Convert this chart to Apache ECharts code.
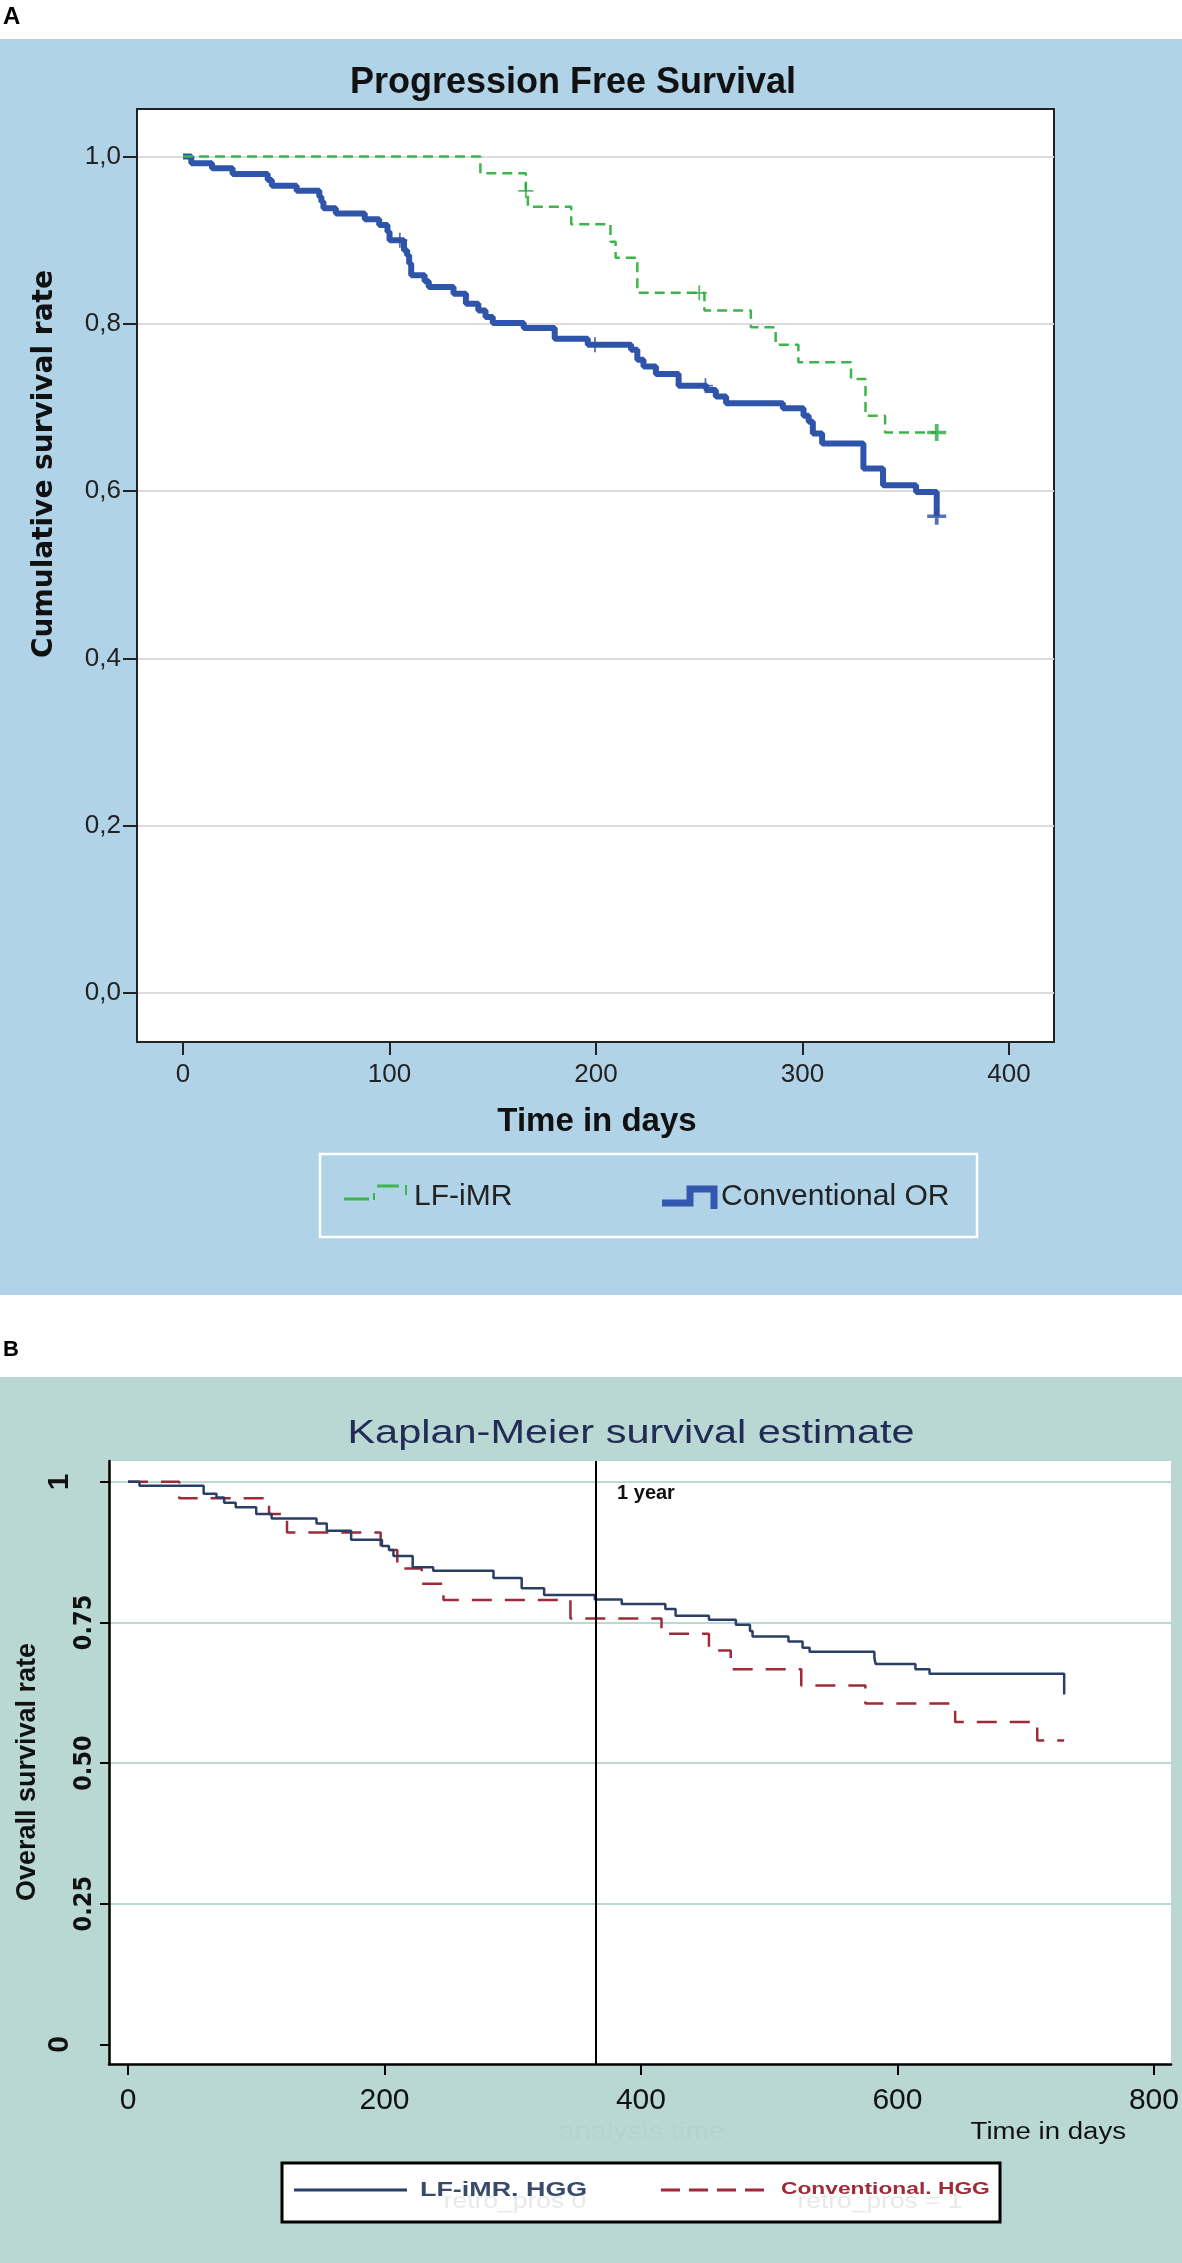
<!DOCTYPE html>
<html lang="en">
<head>
<meta charset="UTF-8">
<title>survival curves</title>
<script src="https://cdn.jsdelivr.net/npm/echarts@6/dist/echarts.min.js"></script>
<style>
  html, body { margin: 0; padding: 0; background: #fff; }
  #main { width: 1182px; height: 2263px; }
</style>
</head>
<body>
<div id="main"></div>
<script>
// panel A - progression free survival (days, cumulative survival)
var pfsLfDays = [0, 144, 166, 167, 188, 207, 209.5, 220, 252.5, 275, 287, 298, 323.5, 330.5, 340, 365];
var pfsLfSurv = [1.0, 0.980, 0.959, 0.940, 0.919, 0.898, 0.879, 0.837, 0.816, 0.796, 0.775, 0.754, 0.734, 0.690, 0.670, 0.670];
var pfsLfCensor = [[166, 0.959], [250, 0.837], [365, 0.670]];

var pfsOrDays = [0, 4, 14, 24, 41, 43, 55, 66, 67, 68, 74, 88, 95, 99, 100, 107, 108.5, 109.5, 110.5, 117,
    119, 131, 137, 143, 146.5, 150, 165, 180, 196, 217, 220, 223, 229, 240, 253.5, 258, 263, 290.5, 300.5, 303,
    305, 309.5, 329.5, 339, 355, 365];
var pfsOrSurv = [1.0, 0.992, 0.986, 0.979, 0.972, 0.965, 0.959, 0.952, 0.946, 0.938, 0.932, 0.925, 0.918, 0.910, 0.900, 0.888, 0.882, 0.872, 0.858, 0.851,
    0.844, 0.836, 0.824, 0.816, 0.808, 0.801, 0.795, 0.782, 0.775, 0.769, 0.757, 0.749, 0.740, 0.726, 0.721, 0.713, 0.705, 0.699, 0.690, 0.683,
    0.669, 0.657, 0.627, 0.607, 0.599, 0.570];
var pfsOrCensor = [[105, 0.900], [199.5, 0.775], [253, 0.726], [365, 0.570]];

var pfsXTicks = [0, 100, 200, 300, 400];
var pfsYTicks = [0, 0.2, 0.4, 0.6, 0.8, 1.0];

// panel B - overall survival
var osLfDays = [0, 9, 59, 69, 75, 84, 100, 112, 147, 155, 174, 198, 203.5, 207, 222, 238, 285, 307, 324.5, 364,
    385, 419, 427, 453, 474, 485, 487, 515, 526, 531.5, 582, 583, 614, 625, 730];
var osLfSurv = [1.0, 0.993, 0.979, 0.972, 0.963, 0.955, 0.943, 0.935, 0.926, 0.913, 0.897, 0.886, 0.879, 0.868, 0.848, 0.842, 0.829, 0.811, 0.799, 0.791,
    0.783, 0.774, 0.762, 0.755, 0.746, 0.735, 0.725, 0.716, 0.705, 0.698, 0.687, 0.676, 0.667, 0.659, 0.622];

var osConvDays = [0, 40, 110, 124, 197, 210, 229, 246, 345, 416, 453, 470, 525, 575, 645, 709, 730];
var osConvSurv = [1.0, 0.971, 0.943, 0.910, 0.879, 0.846, 0.819, 0.790, 0.757, 0.730, 0.700, 0.667, 0.638, 0.606, 0.573, 0.540, 0.540];

var osXTicks = [0, 200, 400, 600, 800];
var osYTicks = [0, 0.25, 0.5, 0.75, 1];
var osGridValues = [0.25, 0.5, 0.75, 1];
var oneYear = 365;

var SANS = "'Liberation Sans', Arial, sans-serif";
var NARROW = "'Liberation Sans Narrow', 'Arial Narrow', 'DejaVu Sans Condensed', sans-serif";
var plusThick = 'path://M4,0H6V4H10V6H6V10H4V6H0V4H4Z';
var plusThin = 'path://M4.4,0H5.6V4.4H10V5.6H5.6V10H4.4V5.6H0V4.4H4.4Z';

function pairs(days, surv) {
    return days.map(function (d, i) { return [d, surv[i]]; });
}
function censorData(list) {
    return list.map(function (p, i) {
        var last = i === list.length - 1;
        return {value: p, symbol: last ? plusThick : plusThin, symbolSize: last ? [19, 17] : [15, 15]};
    });
}
var gid = 0;
function txt(x, y, text, style, extra) {
    var el = {type: 'text', id: 'g' + (gid++), x: x, y: y, silent: true, style: Object.assign({
        text: text, fill: '#111', fontFamily: SANS,
        align: 'center', textAlign: 'center', verticalAlign: 'middle', textVerticalAlign: 'middle'
    }, style)};
    return Object.assign(el, extra || {});
}
function seg(x1, y1, x2, y2, color, w, dash) {
    return {type: 'line', id: 'g' + (gid++), silent: true, shape: {x1: x1, y1: y1, x2: x2, y2: y2},
        style: {stroke: color, lineWidth: w, lineDash: dash || null}};
}

var chart = echarts.init(document.getElementById('main'));

var graphics = [
    // panel backgrounds
    {type: 'rect', id: 'bgA', z: -10, silent: true, shape: {x: 0, y: 39, width: 1182, height: 1256}, style: {fill: '#b1d3e8'}},
    {type: 'rect', id: 'bgB', z: -10, silent: true, shape: {x: 0, y: 1377, width: 1182, height: 886}, style: {fill: '#b9d8d3'}},
    txt(3, 17, 'A', {fontSize: 24, fontWeight: 'bold', align: 'left', textAlign: 'left', fill: '#000'}),
    txt(3, 1350, 'B', {fontSize: 22, fontWeight: 'bold', align: 'left', textAlign: 'left', fill: '#000'}),

    // panel A texts
    txt(573, 83, 'Progression Free Survival', {fontSize: 36, fontWeight: 'bold'}),
    txt(45, 464, 'Cumulative survival rate', {fontSize: 28, fontWeight: 'bold', fontFamily: "'DejaVu Sans', sans-serif"}, {rotation: Math.PI / 2}),
    txt(597, 1122, 'Time in days', {fontSize: 33, fontWeight: 'bold'}),

    // panel A legend
    {type: 'rect', id: 'legA', silent: true, shape: {x: 320, y: 1154, width: 657, height: 83}, style: {fill: 'transparent', stroke: '#fff', lineWidth: 2.5}},
    seg(344, 1199, 369, 1199, '#3db54b', 3),
    seg(374, 1193, 374, 1200, '#3db54b', 2),
    seg(377, 1186, 399, 1186, '#3db54b', 3),
    seg(406, 1185, 406, 1195, '#3db54b', 2),
    {type: 'polyline', id: 'legAIcon', silent: true, shape: {points: [[662, 1203], [690, 1203], [690, 1189], [714, 1189], [714, 1209]]},
        style: {stroke: '#3458b0', lineWidth: 7, fill: null, lineJoin: 'miter'}},
    txt(414, 1197, 'LF-iMR', {fontSize: 30, align: 'left', textAlign: 'left', fill: '#222'}),
    txt(721, 1197, 'Conventional OR', {fontSize: 30, align: 'left', textAlign: 'left', fill: '#222'}),

    // panel B texts
    txt(631, 1434, 'Kaplan-Meier survival estimate', {fontSize: 34, fill: '#222c55'}, {scaleX: 1.22}),
    txt(28, 1772, 'Overall survival rate', {fontSize: 27, fontWeight: 'bold'}, {rotation: Math.PI / 2}),
    txt(642, 2132, 'analysis time', {fontSize: 24, fill: '#b4d3ce'}, {scaleX: 1.2}),
    txt(1126, 2133, 'Time in days', {fontSize: 23, align: 'right', textAlign: 'right', fill: '#111'}, {scaleX: 1.2}),

    // panel B legend
    {type: 'rect', id: 'legB', silent: true, shape: {x: 282, y: 2163, width: 718, height: 59}, style: {fill: '#fff', stroke: '#000', lineWidth: 3}},
    txt(515, 2202, 'retro_pros 0', {fontSize: 22, fill: '#e9e9e9'}, {scaleX: 1.2}),
    txt(880, 2202, 'retro_pros = 1', {fontSize: 22, fill: '#e9e9e9'}, {scaleX: 1.2}),
    seg(294, 2190, 407, 2190, '#2b3f66', 3),
    seg(661, 2190, 764, 2190, '#9e2a3a', 3, [19, 9]),
    txt(420, 2190, 'LF-iMR. HGG', {fontSize: 21, fontWeight: 'bold', align: 'left', textAlign: 'left', fill: '#3a4a6c'}, {scaleX: 1.28}),
    txt(781, 2189, 'Conventional. HGG', {fontSize: 17, fontWeight: 'bold', align: 'left', textAlign: 'left', fill: '#9e2a3a'}, {scaleX: 1.34})
];

var option = {
    animation: false,
    backgroundColor: '#fff',
    graphic: {elements: graphics},
    grid: [
        {left: 137, top: 109, width: 917, height: 933, show: true, backgroundColor: '#fff', borderColor: '#222', borderWidth: 2},
        {left: 109, top: 1461, width: 1062, height: 603, show: true, backgroundColor: '#fff', borderWidth: 0}
    ],
    xAxis: [
        {
            type: 'value', gridIndex: 0, min: -22.3, max: 421.8,
            axisLine: {show: true, onZero: false, lineStyle: {color: '#222', width: 2}},
            axisTick: {show: true, customValues: pfsXTicks, length: 13, lineStyle: {color: '#222', width: 2}},
            axisLabel: {customValues: pfsXTicks, fontSize: 26, margin: 20, color: '#222', fontFamily: SANS},
            splitLine: {show: false}
        },
        {
            type: 'value', gridIndex: 1, min: -14.8, max: 813.3,
            axisLine: {show: true, onZero: false, lineStyle: {color: '#000', width: 2.5}},
            axisTick: {show: true, customValues: osXTicks, length: 11, lineStyle: {color: '#000', width: 2}},
            axisLabel: {customValues: osXTicks, fontSize: 30, margin: 22, color: '#111', fontFamily: SANS},
            splitLine: {show: false}
        }
    ],
    yAxis: [
        {
            type: 'value', gridIndex: 0, min: -0.0586, max: 1.0568,
            axisLine: {show: true, onZero: false, lineStyle: {color: '#222', width: 2}},
            axisTick: {show: true, customValues: pfsYTicks, length: 14, lineStyle: {color: '#222', width: 2}},
            axisLabel: {customValues: pfsYTicks, fontSize: 26, margin: 16, color: '#222', fontFamily: SANS,
                formatter: function (v) { return v.toFixed(1).replace('.', ','); }},
            splitLine: {show: true, lineStyle: {color: '#dcdcdc', width: 2}}
        },
        {
            type: 'value', gridIndex: 1, min: -0.035, max: 1.037,
            axisLine: {show: true, onZero: false, lineStyle: {color: '#000', width: 2.5}},
            axisTick: {show: true, customValues: osYTicks, length: 9, lineStyle: {color: '#000', width: 2}},
            axisLabel: {customValues: osYTicks, rotate: 90, margin: 12, color: '#111',
                formatter: function (v) {
                    return (v === 0 || v === 1) ? '{big|' + v + '}' : '{small|' + v.toFixed(2) + '}';
                },
                rich: {
                    big: {fontSize: 30, fontWeight: 'bold', fontFamily: SANS, padding: [0, 0, 22, 0]},
                    small: {fontSize: 25, fontWeight: 'bold', fontFamily: NARROW}
                }},
            splitLine: {show: false}
        },
        {
            type: 'value', gridIndex: 1, min: -0.035, max: 1.037,
            axisLine: {show: false}, axisLabel: {show: false},
            axisTick: {show: false, customValues: osGridValues},
            splitLine: {show: true, lineStyle: {color: '#b9d9d3', width: 2}}
        }
    ],
    series: [
        {
            name: 'Conventional OR', type: 'line', xAxisIndex: 0, yAxisIndex: 0, step: 'end', showSymbol: false, z: 2,
            lineStyle: {color: '#2f55aa', width: 6}, data: pairs(pfsOrDays, pfsOrSurv)
        },
        {
            name: 'LF-iMR', type: 'line', xAxisIndex: 0, yAxisIndex: 0, step: 'end', showSymbol: false, z: 3,
            lineStyle: {color: '#3db54b', width: 2.5, type: [10, 6]}, data: pairs(pfsLfDays, pfsLfSurv)
        },
        {
            name: 'LF-iMR censored', type: 'scatter', xAxisIndex: 0, yAxisIndex: 0, z: 4,
            itemStyle: {color: '#2ea843'}, data: censorData(pfsLfCensor)
        },
        {
            name: 'Conventional OR censored', type: 'scatter', xAxisIndex: 0, yAxisIndex: 0, z: 4,
            itemStyle: {color: '#2a4fa3'}, data: censorData(pfsOrCensor)
        },
        {
            name: 'LF-iMR. HGG', type: 'line', xAxisIndex: 1, yAxisIndex: 1, step: 'end', showSymbol: false, z: 3,
            lineStyle: {color: '#2b3f66', width: 2.5}, data: pairs(osLfDays, osLfSurv)
        },
        {
            name: 'Conventional. HGG', type: 'line', xAxisIndex: 1, yAxisIndex: 1, step: 'end', showSymbol: false, z: 2,
            lineStyle: {color: '#9e2a3a', width: 2.5, type: [20, 13]}, data: pairs(osConvDays, osConvSurv),
            markLine: {
                silent: true, symbol: ['none', 'none'], label: {show: false},
                lineStyle: {color: '#000', width: 2, type: 'solid'},
                data: [{xAxis: oneYear}]
            }
        }
    ]
};
chart.setOption(option);

// "1 year" label sits just right of the reference line, near the top
var yearPt = chart.convertToPixel({xAxisIndex: 1, yAxisIndex: 1}, [oneYear, 1]);
var yearLabel = txt(yearPt[0] + 21, yearPt[1] + 12, '1 year',
    {fontSize: 20, fontWeight: 'bold', align: 'left', textAlign: 'left', fill: '#111'});
yearLabel.id = 'yearLabel';
chart.setOption({graphic: {elements: [yearLabel]}});
</script>
</body>
</html>
